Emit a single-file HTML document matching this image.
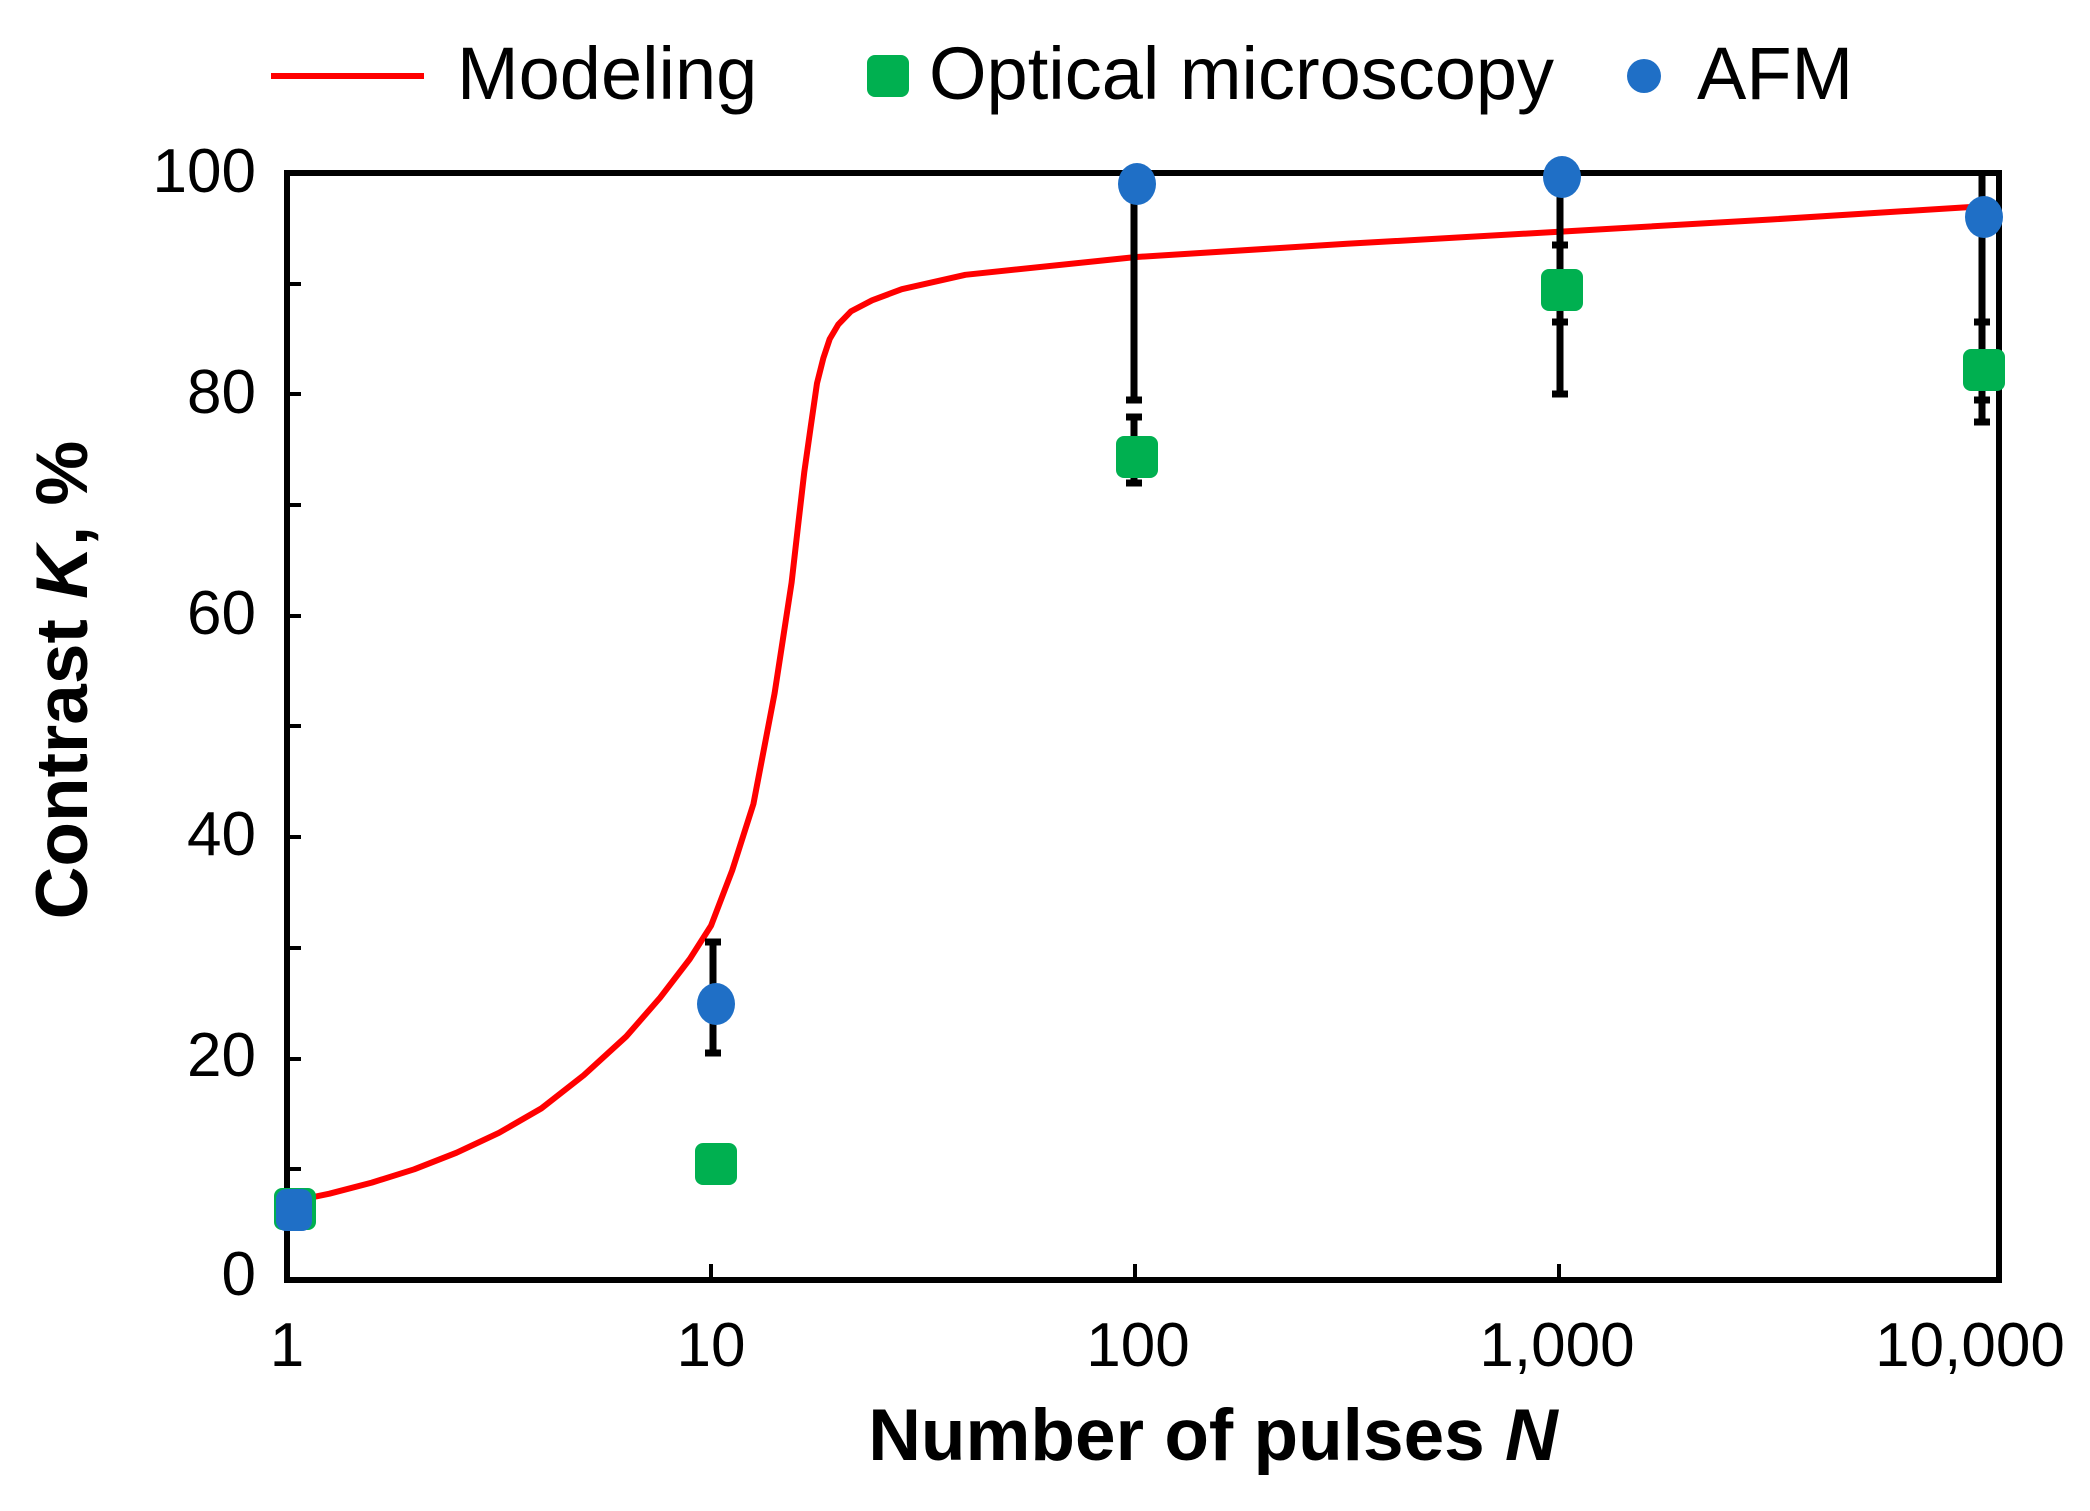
<!DOCTYPE html>
<html><head><meta charset="utf-8"><style>
html,body{margin:0;padding:0;background:#fff;}
svg{display:block;}
text{font-family:"Liberation Sans",Arial,sans-serif;fill:#000;}
</style></head><body>
<svg width="2090" height="1511" viewBox="0 0 2090 1511" xmlns="http://www.w3.org/2000/svg">
<line x1="271" y1="76" x2="424" y2="76" stroke="#ff0000" stroke-width="6"/>
<text x="457" y="99" font-size="74">Modeling</text>
<rect x="867" y="55" width="42" height="42" rx="8" fill="#00b050"/>
<text x="929" y="99" font-size="74">Optical microscopy</text>
<circle cx="1644" cy="76" r="17" fill="#1f6fc6"/>
<text x="1697" y="99" font-size="74">AFM</text>

<g stroke="#000" stroke-width="4">
<line x1="287" y1="1169" x2="301" y2="1169"/>
<line x1="287" y1="1059" x2="301" y2="1059"/>
<line x1="287" y1="948" x2="301" y2="948"/>
<line x1="287" y1="837" x2="301" y2="837"/>
<line x1="287" y1="726" x2="301" y2="726"/>
<line x1="287" y1="616" x2="301" y2="616"/>
<line x1="287" y1="505" x2="301" y2="505"/>
<line x1="287" y1="394" x2="301" y2="394"/>
<line x1="287" y1="284" x2="301" y2="284"/>
<line x1="711" y1="1280" x2="711" y2="1264"/>
<line x1="1135" y1="1280" x2="1135" y2="1264"/>
<line x1="1559" y1="1280" x2="1559" y2="1264"/>
</g>
<rect x="287" y="173" width="1712" height="1107" fill="none" stroke="#000" stroke-width="6"/>

<g font-size="62" text-anchor="end">
<text x="256" y="1295">0</text>
<text x="256" y="1076">20</text>
<text x="256" y="855">40</text>
<text x="256" y="634">60</text>
<text x="256" y="413">80</text>
<text x="256" y="192">100</text>
</g>
<g font-size="62" text-anchor="middle">
<text x="287" y="1366">1</text>
<text x="711" y="1366">10</text>
<text x="1138" y="1366">100</text>
<text x="1557" y="1366">1,000</text>
<text x="1970" y="1366">10,000</text>
</g>
<text x="1213" y="1460" font-size="73" font-weight="bold" text-anchor="middle">Number of pulses <tspan font-style="italic">N</tspan></text>
<text transform="translate(87,680) rotate(-90)" font-size="73" font-weight="bold" text-anchor="middle">Contrast <tspan font-style="italic">K</tspan>, %</text>

<polyline fill="none" stroke="#ff0000" stroke-width="6" stroke-linejoin="round" stroke-linecap="round" points="287,1202.5 329.4,1193.7 371.8,1182.6 414.2,1169.3 456.6,1152.7 499,1132.8 541.4,1108.4 583.8,1075.2 626.2,1036.5 660.1,997.7 689.8,959 711,925.8 732.2,870.4 753.4,804 761.9,759.7 774.6,693.3 783.1,638 791.6,582.6 797.9,527.2 804.3,471.9 810.6,427.6 817,383.3 823.4,357.9 829.7,339 838.2,324.6 850.9,311.4 872.1,300.3 901.8,289.2 965.4,274.8 1135,257.1 1347,243.8 1559,231.7 1771,219.5 1983,206.2"/>

<g stroke="#000" stroke-width="7">
<line x1="713" y1="942" x2="713" y2="1053"/>
<line x1="705" y1="942" x2="721" y2="942"/>
<line x1="705" y1="1053" x2="721" y2="1053"/>
<line x1="1134" y1="184" x2="1134" y2="400"/>
<line x1="1126" y1="400" x2="1142" y2="400"/>
<line x1="1134" y1="417" x2="1134" y2="483"/>
<line x1="1126" y1="417" x2="1142" y2="417"/>
<line x1="1126" y1="483" x2="1142" y2="483"/>
<line x1="1560" y1="173" x2="1560" y2="394"/>
<line x1="1552" y1="245" x2="1568" y2="245"/>
<line x1="1552" y1="322" x2="1568" y2="322"/>
<line x1="1552" y1="394" x2="1568" y2="394"/>
<line x1="1982" y1="173" x2="1982" y2="422"/>
<line x1="1974" y1="322" x2="1990" y2="322"/>
<line x1="1974" y1="400" x2="1990" y2="400"/>
<line x1="1974" y1="422" x2="1990" y2="422"/>
</g>

<g fill="#00b050">
<rect x="274" y="1188" width="42" height="42" rx="8"/>
<rect x="695" y="1143" width="42" height="42" rx="8"/>
<rect x="1116" y="436" width="42" height="42" rx="8"/>
<rect x="1541" y="269" width="42" height="42" rx="8"/>
<rect x="1963" y="349" width="42" height="42" rx="8"/>
</g>
<g fill="#1f6fc6">
<rect x="276" y="1189" width="36" height="42" rx="10"/>
<ellipse cx="716" cy="1004" rx="19" ry="21"/>
<ellipse cx="1137" cy="184" rx="19" ry="21"/>
<ellipse cx="1562" cy="177" rx="19" ry="21"/>
<ellipse cx="1984" cy="217" rx="19" ry="21"/>
</g>
</svg>
</body></html>
